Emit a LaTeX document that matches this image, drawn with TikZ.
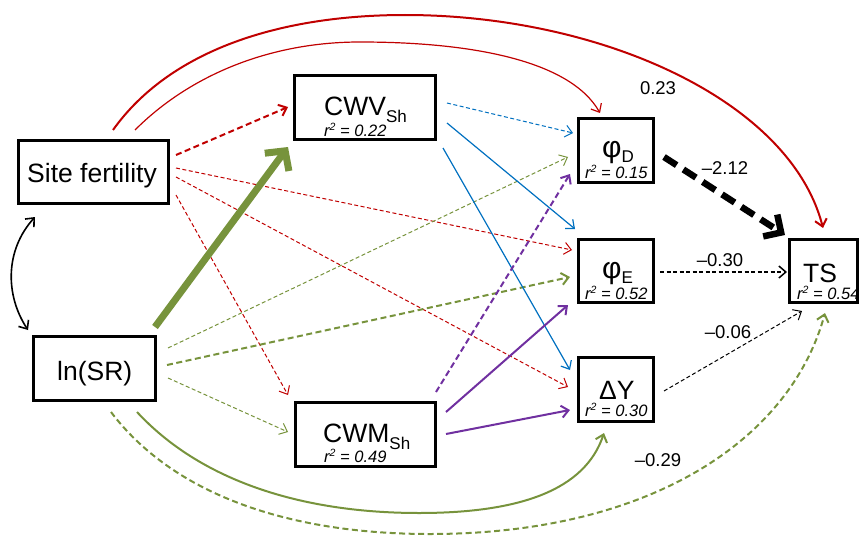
\documentclass[tikz,border=0pt]{standalone}
\usepackage{fontspec}
\setmainfont{Liberation Sans}
\usetikzlibrary{arrows.meta,calc}
\definecolor{cred}{RGB}{192,0,0}
\definecolor{cblue}{RGB}{0,112,192}
\definecolor{cgreen}{RGB}{119,147,60}
\definecolor{cpurple}{RGB}{112,48,160}
\newcommand\subt[1]{\raisebox{-7pt}{\fontsize{17}{17}\selectfont #1}}
\newcommand\subp[1]{\raisebox{-5pt}{\fontsize{17}{17}\selectfont #1}}
\newcommand\rsq{r\raisebox{5.5pt}{\fontsize{10.5}{10.5}\selectfont 2}}
\begin{document}
\begin{tikzpicture}[x=1pt,y=-1pt,
  box/.style={draw=black,line width=2.8pt,inner sep=0pt,outer sep=0pt},
  maintxt/.style={inner sep=0pt,anchor=base west,font=\fontsize{26.5}{30}\selectfont},
  rtxt/.style={inner sep=0pt,anchor=base west,font=\fontsize{16.5}{18}\selectfont\itshape},
  coef/.style={inner sep=0pt,font=\fontsize{18.5}{20}\selectfont},
  arr/.style={-{Straight Barb[length=7pt,width=12pt]}},
  thinl/.style={line width=1pt},
  medl/.style={line width=2pt},
  dsh/.style={dash pattern=on 4pt off 2.5pt},
  dshm/.style={dash pattern=on 6pt off 3.5pt}]
\useasboundingbox (0,0) rectangle (861,535);

% boxes
\node[box,minimum width=150pt,minimum height=63pt] (sf) at (93.5,172) {};
\node[box,minimum width=122pt,minimum height=64pt] (ln) at (94.5,368.5) {};
\node[box,minimum width=141pt,minimum height=64pt] (cwv) at (365,107.5) {};
\node[box,minimum width=140pt,minimum height=64pt] (cwm) at (365.5,434.5) {};
\node[box,minimum width=75pt,minimum height=64pt] (phd) at (616,150.5) {};
\node[box,minimum width=75pt,minimum height=63pt] (phe) at (616,271) {};
\node[box,minimum width=75pt,minimum height=64pt] (dy) at (616,389.5) {};
\node[box,minimum width=68pt,minimum height=63pt] (ts) at (823.5,271) {};

% texts
\node[maintxt] (sft) at (27,182) {Site fertility};
\node[maintxt] (lnt) at (57,380) {ln(SR)};
\node[maintxt] (cwvt) at (324,115) {CWV\subt{Sh}};
\node[maintxt] (cwmt) at (323,442) {CWM\subt{Sh}};
\node[maintxt] (phdt) at (602,157) {{\fontsize{30}{30}\selectfont φ}\subp{D}};
\node[maintxt] (phet) at (602,278) {{\fontsize{30}{30}\selectfont φ}\subp{E}};
\node[maintxt] (dyt) at (599,399) {ΔY};
\node[maintxt] (tst) at (803,282) {TS};
\node[rtxt] (cwvr) at (324,136) {\rsq{} = 0.22};
\node[rtxt] (cwmr) at (324,462) {\rsq{} = 0.49};
\node[rtxt] (phdr) at (585,178) {\rsq{} = 0.15};
\node[rtxt] (pher) at (585,299) {\rsq{} = 0.52};
\node[rtxt] (dyr) at (585,416) {\rsq{} = 0.30};
\node[rtxt] (tsr) at (797,299) {\rsq{} = 0.54};

% coefficients
\node[coef] (c1) at (658,88) {0.23};
\node[coef] (c2) at (725,168) {–2.12};
\node[coef] (c3) at (720,260) {–0.30};
\node[coef] (c4) at (728,332) {–0.06};
\node[coef] (c5) at (658,460) {–0.29};

% site fertility arrows (red)
\draw[arr,cred,medl,dshm] ($(sf.east)+(7.5,-17)$) -- ($(cwv.west)+(-6.5,-0.5)$);
\draw[arr,cred,thinl,dsh] ($(sf.east)+(7.5,-4)$) -- ($(phe.west)+(-6.5,-21)$);
\draw[arr,cred,thinl,dsh] ($(sf.east)+(7.5,5)$) -- ($(dy.west)+(-10.5,-2.5)$);
\draw[arr,cred,thinl,dsh] ($(sf.east)+(7.5,23)$) -- ($(cwm.north west)+(-7.5,-7.5)$);
\draw[arr,cred,line width=1.2pt] ($(sf.north)+(41.5,-10.5)$) .. controls (190,75) and (270,42) .. (360,42)
   .. controls (470,42) and (570,60) .. ($(phd.north)+(-16,-5.5)$);
\draw[arr,cred,line width=2pt] ($(sf.north)+(19.5,-10.5)$) .. controls (170,50) and (280,15) .. (405,15)
   .. controls (600,15) and (790,100) .. ($(ts.north)+(-0.5,-11.5)$);

% ln(SR) arrows (green)
\draw[-{Straight Barb[length=14pt,width=30pt]},cgreen,line width=7pt] ($(ln.north east)+(-0.5,-9.5)$) -- ($(cwv.south west)+(-6.5,7.5)$);
\draw[arr,cgreen,thinl,dsh] ($(ln.east)+(12.5,-20.5)$) -- ($(phd.west)+(-10.5,6.5)$);
\draw[arr,cgreen,medl,dshm] ($(ln.east)+(11.5,-3.5)$) -- ($(phe.west)+(-8.5,6)$);
\draw[arr,cgreen,thinl,dsh] ($(ln.east)+(12.5,9.5)$) -- ($(cwm.west)+(-7.5,-2.5)$);
\draw[arr,cgreen,medl] ($(ln.south)+(42.5,11.5)$) .. controls (200,480) and (300,513) .. (419,513)
   .. controls (520,513) and (585,490) .. ($(dy.south)+(-12,11.5)$);
\draw[arr,cgreen,medl,dshm] ($(ln.south)+(16.5,11.5)$) .. controls (170,490) and (280,534) .. (430,534)
   .. controls (650,534) and (790,440) .. ($(ts.south)+(1.5,10.5)$);

% CWV arrows (blue)
\draw[arr,cblue,thinl,dsh] ($(cwv.east)+(11.5,-4.5)$) -- ($(phd.west)+(-5.5,-17.5)$);
\draw[arr,cblue,line width=1.2pt] ($(cwv.east)+(11.5,15.5)$) -- ($(phe.west)+(-3.5,-42)$);
\draw[arr,cblue,line width=1.2pt] ($(cwv.east)+(7.5,40.5)$) -- ($(dy.west)+(-8.5,-19.5)$);

% CWM arrows (purple)
\draw[arr,cpurple,medl,dshm] ($(cwm.north east)+(0.5,-10.5)$) -- ($(phd.west)+(-8.5,23.5)$);
\draw[arr,cpurple,medl] ($(cwm.east)+(10.5,-22.5)$) -- ($(phe.west)+(-10.5,34)$);
\draw[arr,cpurple,medl] ($(cwm.east)+(10.5,-0.5)$) -- ($(dy.west)+(-8.5,20.5)$);

% to TS (black)
\draw[-{Straight Barb[length=13pt,width=26pt]},black,line width=6.5pt,dash pattern=on 15pt off 8pt] ($(phd.east)+(10.5,6.5)$) -- ($(ts.north west)+(-4.5,-4.5)$);
\draw[arr,black,line width=1.5pt,dsh] ($(phe.east)+(6.5,1)$) -- ($(ts.west)+(-2.5,1)$);
\draw[arr,black,thinl,dsh] ($(dy.east)+(10.5,1.5)$) -- ($(ts.south west)+(12.5,8.5)$);

% correlation
\draw[{Straight Barb[length=7pt,width=12pt]}-{Straight Barb[length=7pt,width=12pt]},black,line width=1.6pt]
  ($(sf.south)+(-58.5,13.5)$) .. controls (5,250) and (5,295) .. ($(ln.north)+(-66.5,-6.5)$);
\end{tikzpicture}
\end{document}
